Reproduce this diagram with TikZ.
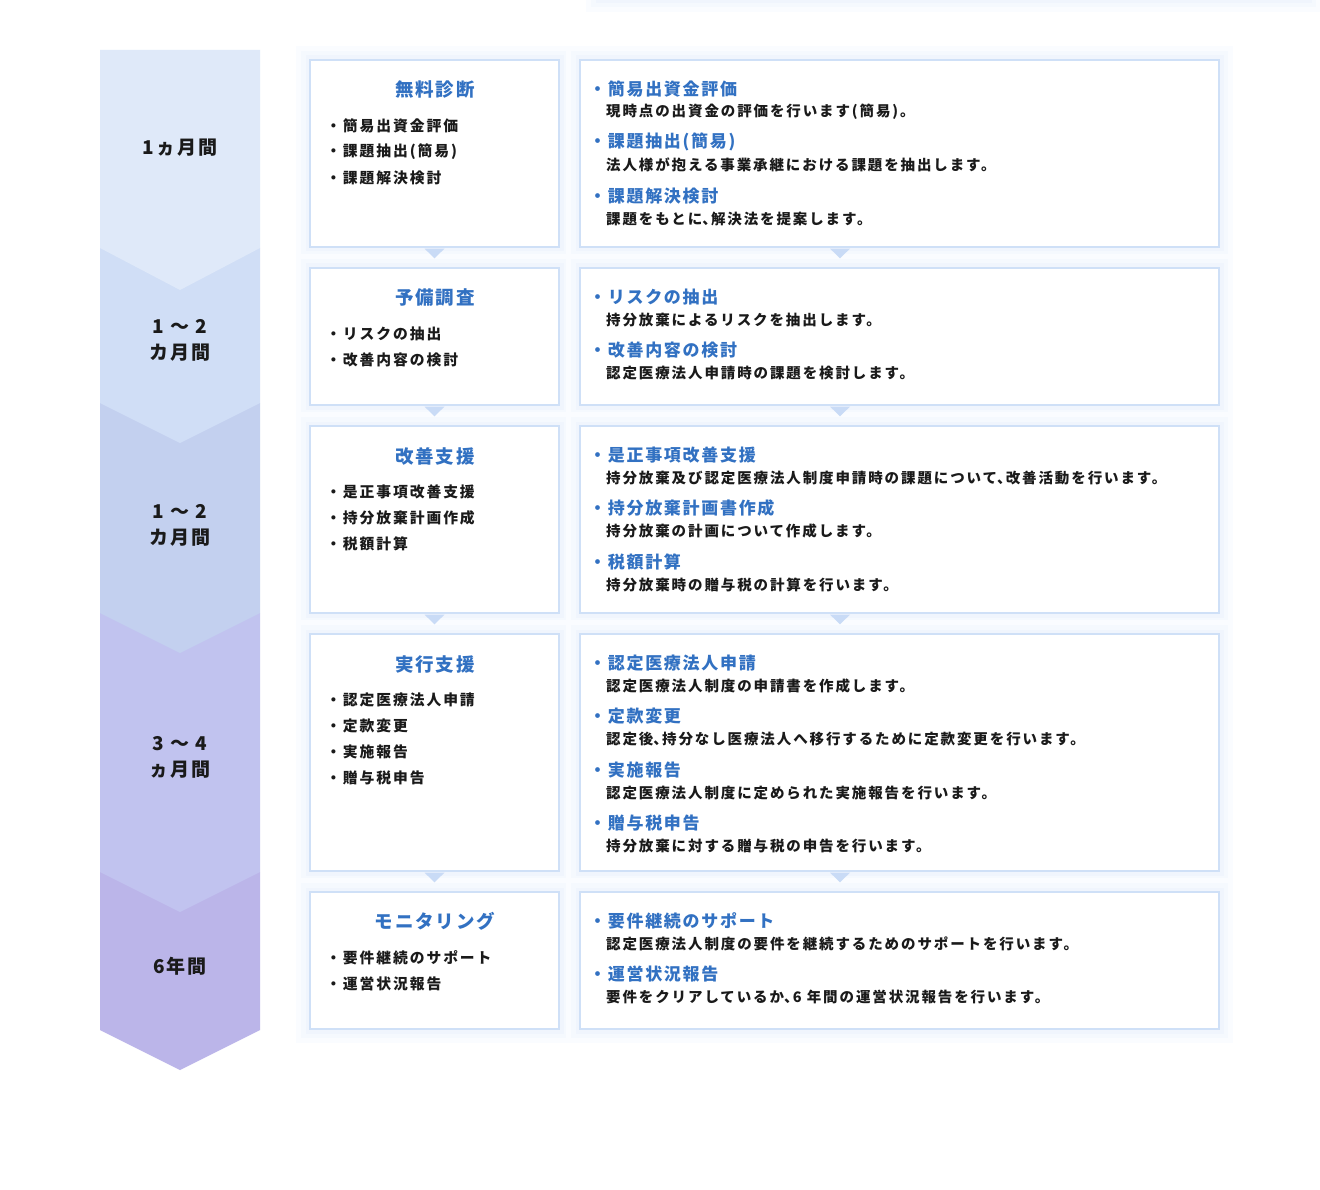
\documentclass[tikz,border=0pt]{standalone}
\usepackage{fontspec}
\setmainfont{Noto Sans CJK JP}
\newfontfamily\jpx{Noto Sans CJK JP}[LetterSpace=10]
\newfontfamily\jpy{Noto Sans CJK JP}[LetterSpace=13]
\newcommand{\tq}{\makebox[0.6em][l]{、}}
\usetikzlibrary{calc}
\definecolor{bordc}{HTML}{CFE0F7}
\definecolor{tric}{HTML}{C9DBF6}
\definecolor{glowA}{HTML}{FAFCFF}
\definecolor{glowB}{HTML}{F5F9FE}
\definecolor{glowC}{HTML}{F0F5FD}
\definecolor{tblue}{HTML}{3271C2}
\definecolor{txt}{HTML}{1A1A1A}
\definecolor{segA}{HTML}{DFE9F9}
\definecolor{segB}{HTML}{D0DEF6}
\definecolor{segC}{HTML}{C3D0EF}
\definecolor{segD}{HTML}{C1C3EF}
\definecolor{segE}{HTML}{BBB5E9}
\begin{document}
\begin{tikzpicture}[x=1pt,y=-1pt,
  boxbase/.style={draw=bordc, line width=1.6pt, fill=white, inner sep=0pt,
    preaction={draw=glowA, line width=28pt},
    preaction={draw=glowB, line width=18pt},
    preaction={draw=glowC, line width=9pt}},
  lbox/.style={boxbase, minimum width=249, minimum height=#1},
  rbox/.style={boxbase, minimum width=639, minimum height=#1},
  ttl/.style={inner sep=0pt, text=tblue, font=\jpx\bfseries\fontsize{18.5}{22}\selectfont},
  lit/.style={anchor=west, inner sep=0pt, text=txt, font=\jpy\bfseries\fontsize{14.8}{18}\selectfont},
  hd/.style={anchor=west, inner sep=0pt, text=tblue, font=\jpx\bfseries\fontsize{17}{20}\selectfont},
  ds/.style={anchor=west, inner sep=0pt, text=txt, font=\jpy\bfseries\fontsize{14.5}{18}\selectfont},
  per/.style={inner sep=0pt, text=txt, align=center, font=\jpx\bfseries\fontsize{19}{26}\selectfont},
  tri/.style={fill=tric}
]
\useasboundingbox (0,0) rectangle (1320,1190);
\fill[white] (0,0) rectangle (1320,1190);
% partial box at top edge
\fill[glowA] (586,-20) rectangle (1320,12);
\fill[glowB] (591,-20) rectangle (1316,7);
\fill[glowC] (596,-20) rectangle (1312,3);

% period column (chevrons, back to front)
\fill[segE] (100,872) -- (260,872) -- (260,1030) -- (180,1070) -- (100,1030) -- cycle;
\fill[segD] (100,613) -- (260,613) -- (260,872) -- (180,912) -- (100,872) -- cycle;
\fill[segC] (100,403) -- (260,403) -- (260,613) -- (180,653) -- (100,613) -- cycle;
\fill[segB] (100,248) -- (260,248) -- (260,403) -- (180,443) -- (100,403) -- cycle;
\fill[segA] (100,50) -- (260,50) -- (260,248) -- (180,290) -- (100,248) -- cycle;

\node[per] (p1) at (180,148) {1ヵ月間};
\node[per] (p2) at (180,340) {1 ～ 2\\カ月間};
\node[per] (p3) at (180,525) {1 ～ 2\\カ月間};
\node[per] (p4) at (180,757) {3 ～ 4\\ヵ月間};
\node[per] (p5) at (180,966) {6年間};

% boxes
\node[lbox=187] (L1) at (434.5,153.5) {};
\node[rbox=187] (R1) at (899.5,153.5) {};
\node[lbox=137] (L2) at (434.5,336.5) {};
\node[rbox=137] (R2) at (899.5,336.5) {};
\node[lbox=187] (L3) at (434.5,519.5) {};
\node[rbox=187] (R3) at (899.5,519.5) {};
\node[lbox=237] (L4) at (434.5,752.5) {};
\node[rbox=237] (R4) at (899.5,752.5) {};
\node[lbox=137] (L5) at (434.5,960.5) {};
\node[rbox=137] (R5) at (899.5,960.5) {};

% small down triangles
\foreach \b in {L1,L2,L3,L4}{
  \fill[tri] ($(\b.south)+(-10,0.8)$) -- ($(\b.south)+(10,0.8)$) -- ($(\b.south)+(0,10.5)$) -- cycle;
}
\foreach \b in {R1,R2,R3,R4}{
  \fill[tri] ($(\b.south)+(-69.5,0.8)$) -- ($(\b.south)+(-49.5,0.8)$) -- ($(\b.south)+(-59.5,10.5)$) -- cycle;
}

% box 1
\node[ttl] (t1) at (435,89) {無料診断};
\node[lit] (l11) at (326,126) {・簡易出資金評価};
\node[lit] (l12) at (326,152) {・課題抽出(簡易)};
\node[lit] (l13) at (326,178) {・課題解決検討};
\node[hd] (h11) at (589,89) {・簡易出資金評価};
\node[ds] (d11) at (606,112) {現時点の出資金の評価を行います(簡易)。};
\node[hd] (h12) at (589,142) {・課題抽出(簡易)};
\node[ds] (d12) at (606,165) {法人様が抱える事業承継における課題を抽出します。};
\node[hd] (h13) at (589,196) {・課題解決検討};
\node[ds] (d13) at (606,219) {課題をもとに\tq 解決法を提案します。};

% box 2
\node[ttl] (t2) at (435,298) {予備調査};
\node[lit] (l21) at (326,334) {・リスクの抽出};
\node[lit] (l22) at (326,360) {・改善内容の検討};
\node[hd] (h21) at (589,297) {・リスクの抽出};
\node[ds] (d21) at (606,320) {持分放棄によるリスクを抽出します。};
\node[hd] (h22) at (589,350) {・改善内容の検討};
\node[ds] (d22) at (606,373) {認定医療法人申請時の課題を検討します。};

% box 3
\node[ttl] (t3) at (435,456) {改善支援};
\node[lit] (l31) at (326,492) {・是正事項改善支援};
\node[lit] (l32) at (326,518) {・持分放棄計画作成};
\node[lit] (l33) at (326,544) {・税額計算};
\node[hd] (h31) at (589,455) {・是正事項改善支援};
\node[ds] (d31) at (606,478) {持分放棄及び認定医療法人制度申請時の課題について\tq 改善活動を行います。};
\node[hd] (h32) at (589,508) {・持分放棄計画書作成};
\node[ds] (d32) at (606,531) {持分放棄の計画について作成します。};
\node[hd] (h33) at (589,562) {・税額計算};
\node[ds] (d33) at (606,585) {持分放棄時の贈与税の計算を行います。};

% box 4
\node[ttl] (t4) at (435,664) {実行支援};
\node[lit] (l41) at (326,700) {・認定医療法人申請};
\node[lit] (l42) at (326,726) {・定款変更};
\node[lit] (l43) at (326,752) {・実施報告};
\node[lit] (l44) at (326,778) {・贈与税申告};
\node[hd] (h41) at (589,663) {・認定医療法人申請};
\node[ds] (d41) at (606,686) {認定医療法人制度の申請書を作成します。};
\node[hd] (h42) at (589,716) {・定款変更};
\node[ds] (d42) at (606,739) {認定後\tq 持分なし医療法人へ移行するために定款変更を行います。};
\node[hd] (h43) at (589,770) {・実施報告};
\node[ds] (d43) at (606,793) {認定医療法人制度に定められた実施報告を行います。};
\node[hd] (h44) at (589,823) {・贈与税申告};
\node[ds] (d44) at (606,846) {持分放棄に対する贈与税の申告を行います。};

% box 5
\node[ttl] (t5) at (435,921) {モニタリング};
\node[lit] (l51) at (326,958) {・要件継続のサポート};
\node[lit] (l52) at (326,984) {・運営状況報告};
\node[hd] (h51) at (589,921) {・要件継続のサポート};
\node[ds] (d51) at (606,944) {認定医療法人制度の要件を継続するためのサポートを行います。};
\node[hd] (h52) at (589,974) {・運営状況報告};
\node[ds] (d52) at (606,997) {要件をクリアしているか\tq 6 年間の運営状況報告を行います。};
\end{tikzpicture}
\end{document}
